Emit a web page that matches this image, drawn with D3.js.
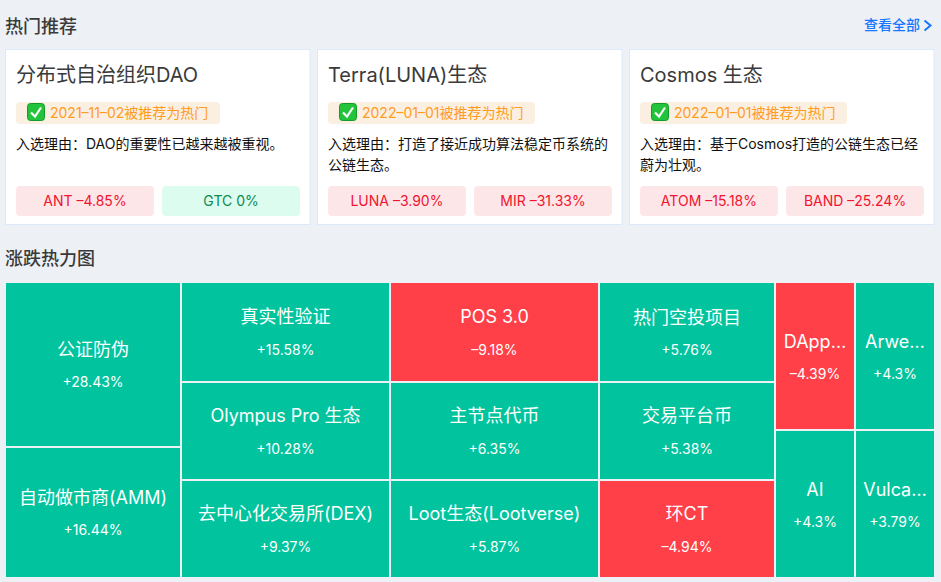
<!DOCTYPE html>
<html><head><meta charset="utf-8">
<script src="https://cdn.jsdelivr.net/npm/d3@7/dist/d3.min.js"></script>
<style>
html,body{margin:0;padding:0;background:#edf1f5;overflow:hidden}
svg{display:block}
text{font-family:Inter,"Noto Sans CJK SC",sans-serif}
</style></head><body>
<script>
const sectionTitles = ["热门推荐", "涨跌热力图"];
const viewAllLabel = "查看全部";
const cardTitles = ["分布式自治组织DAO", "Terra(LUNA)生态", "Cosmos 生态"];
const cardDates = ["2021–11–02被推荐为热门", "2022–01–01被推荐为热门", "2022–01–01被推荐为热门"];
const cardReasons = [
  ["入选理由：DAO的重要性已越来越被重视。"],
  ["入选理由：打造了接近成功算法稳定币系统的", "公链生态。"],
  ["入选理由：基于Cosmos打造的公链生态已经", "蔚为壮观。"]
];
const chipTokens = [["ANT", "GTC"], ["LUNA", "MIR"], ["ATOM", "BAND"]];
const chipChanges = [[-4.85, 0], [-3.90, -31.33], [-15.18, -25.24]];
const chipLabels = [["–4.85%", "0%"], ["–3.90%", "–31.33%"], ["–15.18%", "–25.24%"]];

const heatColumns = [0, 0, 1, 1, 1, 2, 2, 2, 3, 3, 3, 4, 4, 5, 5];
const heatNames = ["公证防伪", "自动做市商(AMM)", "真实性验证", "Olympus Pro 生态", "去中心化交易所(DEX)",
  "POS 3.0", "主节点代币", "Loot生态(Lootverse)", "热门空投项目", "交易平台币", "环CT", "DApp…", "AI", "Arwe…", "Vulca…"];
const heatChanges = [28.43, 16.44, 15.58, 10.28, 9.37, -9.18, 6.35, 5.87, 5.76, 5.38, -4.94, -4.39, 4.3, 4.3, 3.79];
const heatLabels = ["+28.43%", "+16.44%", "+15.58%", "+10.28%", "+9.37%", "–9.18%", "+6.35%", "+5.87%", "+5.76%", "+5.38%", "–4.94%", "–4.39%", "+4.3%", "+4.3%", "+3.79%"];
const heatSizes = [294.3, 233.7, 211.8, 207.6, 207.6, 211.8, 207.6, 207.6, 178.4, 174.8, 174.8, 120, 120, 120, 120];

const W = 941, H = 582;
const svg = d3.select("body").append("svg").attr("width", W).attr("height", H);
svg.append("rect").attr("width", W).attr("height", H).attr("fill", "#edf1f5");

// headings
svg.selectAll("text.section").data(sectionTitles).join("text").attr("class", "section")
  .attr("x", 5).attr("y", (d, i) => [33, 265][i])
  .attr("font-size", 18).attr("font-weight", 500).attr("fill", "#3a3a3a").text(d => d);
svg.append("text").attr("x", 864).attr("y", 30).attr("font-size", 14).attr("font-weight", 500)
  .attr("fill", "#1677ff").text(viewAllLabel);
svg.append("path").attr("d", "M924.5 20.5L930.5 25.5L924.5 30.5").attr("fill", "none")
  .attr("stroke", "#1677ff").attr("stroke-width", 2);

// cards
const cardX = d3.scaleBand().domain(d3.range(cardTitles.length)).range([5, 934.5]).paddingInner(0.0208);
const cards = svg.selectAll("g.card").data(cardTitles).join("g").attr("class", "card")
  .attr("transform", (d, i) => `translate(${cardX(i)},49)`);
cards.append("rect").attr("x", .5).attr("y", .5).attr("width", cardX.bandwidth() - 1).attr("height", 175)
  .attr("fill", "#fff").attr("stroke", "#dbe9fb");
cards.append("text").attr("x", 11).attr("y", 33).attr("font-size", 20).attr("fill", "#3a3a3a").text(d => d);

// badge
cards.append("rect").attr("x", 11).attr("y", 53).attr("height", 22).attr("rx", 4)
  .attr("width", (d, i) => i === 0 ? 204 : 207).attr("fill", "#fbefe2");
cards.append("rect").attr("x", 22.5).attr("y", 54.5).attr("width", 17).attr("height", 17).attr("rx", 3)
  .attr("fill", "#22c43c").attr("stroke", "#139a2a");
cards.append("path").attr("d", "M26 63.5L30 67.5L36 58.5").attr("fill", "none").attr("stroke", "#fff").attr("stroke-width", 2.2);
cards.append("text").attr("x", 45).attr("y", 69).attr("font-size", 14).attr("fill", "#ff9c1f").text((d, i) => cardDates[i]);

// reason
cards.each(function (d, i) {
  d3.select(this).selectAll("text.reason").data(cardReasons[i]).join("text").attr("class", "reason")
    .attr("x", 11).attr("y", (l, k) => 100 + k * 21).attr("font-size", 14).attr("fill", "#111").text(l => l);
  const chipX = d3.scaleBand().domain([0, 1]).range([11, 295]).paddingInner(8 / 142);
  const g = d3.select(this).selectAll("g.chip").data(chipTokens[i]).join("g").attr("class", "chip")
    .attr("transform", (t, k) => `translate(${chipX(k)},137)`);
  const up = k => chipChanges[i][k] >= 0;
  g.append("rect").attr("width", chipX.bandwidth()).attr("height", 30).attr("rx", 4)
    .attr("fill", (t, k) => up(k) ? "#ddfcf0" : "#fde6e8");
  g.append("text").attr("x", chipX.bandwidth() / 2).attr("y", 20).attr("text-anchor", "middle")
    .attr("font-size", 14).attr("fill", (t, k) => up(k) ? "#0b8a4d" : "#f0142f")
    .text((t, k) => `${t} ${chipLabels[i][k]}`);
});

// treemap
const cells = heatNames.map((name, i) => ({ name, size: heatSizes[i], change: heatChanges[i], label: heatLabels[i], column: heatColumns[i] }));
const rootData = { children: d3.groups(cells, c => c.column).map(([k, children]) => ({ children })) };
const root = d3.hierarchy(rootData).sum(d => d.size || 0);
const tile = (node, x0, y0, x1, y1) => (node.depth === 0 ? d3.treemapDice : d3.treemapSlice)(node, x0, y0, x1, y1);
d3.treemap().tile(tile).size([928, 294]).paddingInner(2)(root);
const fill = d3.scaleThreshold().domain([0]).range(["#ff4048", "#01c49e"]);
const heat = svg.append("g").attr("transform", "translate(6,283)");
const leaf = heat.selectAll("g").data(root.leaves()).join("g")
  .attr("transform", d => `translate(${d.x0},${d.y0})`);
leaf.append("rect").attr("width", d => d.x1 - d.x0).attr("height", d => d.y1 - d.y0).attr("fill", d => fill(d.data.change));
leaf.append("text").attr("x", d => (d.x1 - d.x0) / 2).attr("y", d => (d.y1 - d.y0) / 2 - 8.5)
  .attr("text-anchor", "middle").attr("font-size", 18).attr("fill", "#fff").text(d => d.data.name);
leaf.append("text").attr("x", d => (d.x1 - d.x0) / 2).attr("y", d => (d.y1 - d.y0) / 2 + 23)
  .attr("text-anchor", "middle").attr("font-size", 14).attr("fill", "#fff").text(d => d.data.label);
</script>
</body></html>
